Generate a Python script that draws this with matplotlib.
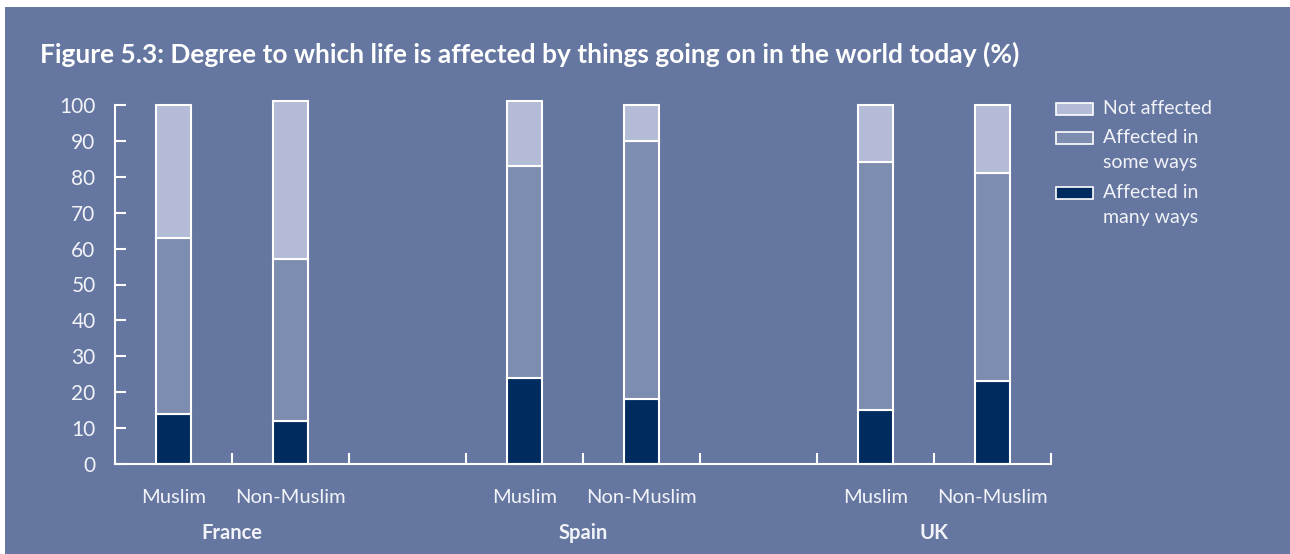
import matplotlib
matplotlib.use('Agg')
import matplotlib.pyplot as plt
from matplotlib.patches import Rectangle
import numpy as np

# Data (%)
countries = ["France", "Spain", "UK"]
groups = ["Muslim", "Non-Muslim"]
many_ways = [14, 12, 24, 18, 15, 23]
some_ways = [49, 45, 59, 72, 69, 58]
not_affected = [37, 44, 18, 10, 16, 19]
series_labels = ["Not affected", "Affected in\nsome ways", "Affected in\nmany ways"]

bg = "#6577a0"
c_not = "#b3bbd6"
c_some = "#7d8db0"
c_many = "#002b5f"
txt = "#f2f3f8"

plt.rcParams['font.family'] = ['Lato', 'DejaVu Sans']

fig = plt.figure(figsize=(12.9, 5.54), dpi=100, facecolor="white")
fig.patches.append(Rectangle((5 / 1290, 0), 1, 547 / 554, transform=fig.transFigure,
                             facecolor=bg, edgecolor="none", zorder=-10))

ax = fig.add_axes([115 / 1290, 90 / 554, 936 / 1290, 359 / 554])
ax.set_facecolor("none")

# bar slots: 3 per country, third left empty
x = np.array([0.5, 1.5, 3.5, 4.5, 6.5, 7.5])
many = np.array(many_ways)
some = np.array(some_ways)
nota = np.array(not_affected)
w = 0.3
kw = dict(width=w, edgecolor="white", linewidth=1.5, clip_on=False)
ax.bar(x, many, color=c_many, **kw)
ax.bar(x, some, bottom=many, color=c_some, **kw)
ax.bar(x, nota, bottom=many + some, color=c_not, **kw)

ax.set_xlim(0, 8)
ax.set_ylim(0, 100)
for s in ["top", "right"]:
    ax.spines[s].set_visible(False)
for s in ["left", "bottom"]:
    ax.spines[s].set_color("white")
    ax.spines[s].set_linewidth(1.5)

ax.set_yticks(range(0, 101, 10))
ax.tick_params(axis="y", direction="in", length=8, width=1.5, color="white",
               labelsize=15, labelcolor=txt, pad=14)
ax.set_xticks(range(1, 9))
ax.set_xticklabels([])
ax.tick_params(axis="x", direction="in", length=8, width=1.5, color="white")

# category labels
for i, xi in enumerate(x):
    ax.text(xi, -9.3, groups[i % 2], ha="center", va="center", fontsize=14.5, color=txt)
for j, c in enumerate(countries):
    ax.text(x[2 * j] + 0.5, -19.3, c, ha="center", va="center", fontsize=14.5,
            fontweight="bold", color=txt)

fig.text(40 / 1290, 1 - 54 / 554,
         "Figure 5.3: Degree to which life is affected by things going on in the world today (%)",
         ha="left", va="center", fontsize=19, fontweight="bold", color="white")

# legend
colors = [c_not, c_some, c_many]
ys = [109, 138, 193]
for lab, col, yy in zip(series_labels, colors, ys):
    fig.patches.append(Rectangle((1056 / 1290, 1 - (yy + 6) / 554), 37 / 1290, 12 / 554,
                                 transform=fig.transFigure, facecolor=col,
                                 edgecolor="white", linewidth=1.2))
    fig.text(1103 / 1290, 1 - (yy - 9) / 554, lab, ha="left", va="top",
             fontsize=14, color=txt, linespacing=1.6)

fig.savefig("out.png", dpi=100, facecolor=fig.get_facecolor())
